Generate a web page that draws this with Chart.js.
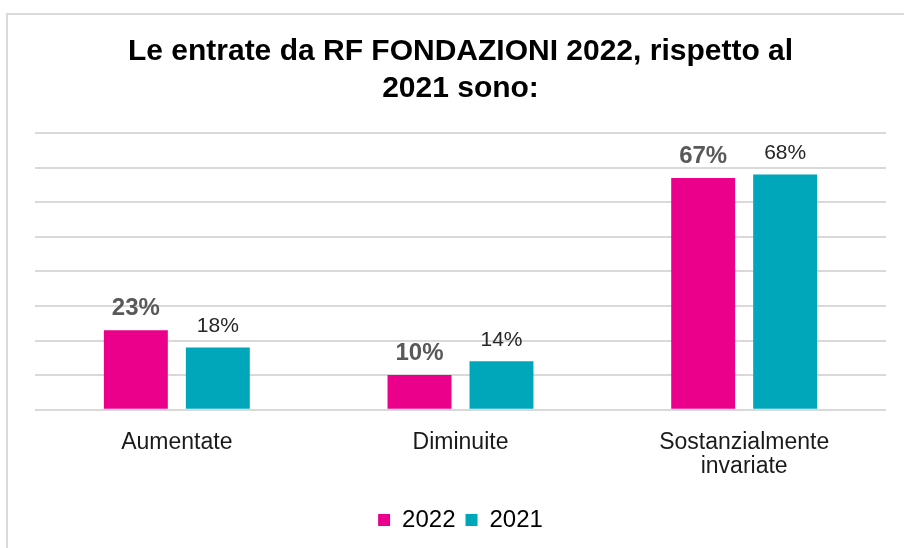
<!DOCTYPE html>
<html>
<head>
<meta charset="utf-8">
<script src="https://cdn.jsdelivr.net/npm/chart.js@4.4.0/dist/chart.umd.min.js"></script>
<style>
  body { margin: 0; overflow: hidden; background: #fff; }
  #frame { position: absolute; left: 6px; top: 13px; width: 1000px; height: 700px; border: 2px solid #d9d9d9; }
  #chart { position: absolute; left: 0; top: 0; }
</style>
</head>
<body>
<div id="frame"></div>
<canvas id="chart" width="904" height="548"></canvas>
<script>
// dati
const categories = ['Aumentate', 'Diminuite', ['Sostanzialmente', 'invariate']];
const values2022 = [23, 10, 67];
const values2021 = [18, 14, 68];
const seriesNames = ['2022', '2021'];

const pink = '#EA008A';
const teal = '#00A6BA';

// etichette sopra le barre
const barLabels = {
  id: 'barLabels',
  afterDatasetsDraw(chart) {
    const ctx = chart.ctx;
    chart.data.datasets.forEach((ds, i) => {
      const meta = chart.getDatasetMeta(i);
      ctx.save();
      if (i === 0) {
        ctx.font = 'bold 24px "Liberation Sans", Arial, sans-serif';
        ctx.fillStyle = '#595959';
      } else {
        ctx.font = '21px "Liberation Sans", Arial, sans-serif';
        ctx.fillStyle = '#262626';
      }
      ctx.textAlign = 'center';
      ctx.textBaseline = 'alphabetic';
      meta.data.forEach((bar, j) => {
        ctx.fillText(ds.data[j] + '%', bar.x, bar.y - 15);
      });
      ctx.restore();
    });
  }
};

const ctx = document.getElementById('chart');
const chart = new Chart(ctx, {
  type: 'bar',
  data: {
    labels: categories,
    datasets: [
      { label: seriesNames[0], data: values2022, backgroundColor: pink },
      { label: seriesNames[1], data: values2021, backgroundColor: teal }
    ]
  },
  options: {
    responsive: false,
    animation: false,
    layout: { padding: { left: 35, right: 18, top: 0, bottom: 6 } },
    categoryPercentage: 0.578,
    barPercentage: 0.78,
    plugins: {
      title: {
        display: true,
        text: ['Le entrate da RF FONDAZIONI 2022, rispetto al', '2021 sono:'],
        color: '#000',
        font: { family: '"Liberation Sans", Arial, sans-serif', size: 30, weight: 'bold', lineHeight: 1.233 },
        padding: { top: 33, bottom: 26 }
      },
      legend: {
        position: 'bottom',
        labels: {
          color: '#000',
          boxWidth: 12,
          boxHeight: 12,
          padding: 10,
          font: { family: '"Liberation Sans", Arial, sans-serif', size: 24 }
        }
      },
      tooltip: { enabled: false }
    },
    scales: {
      x: {
        grid: { display: false },
        border: { display: false },
        afterFit(scale) { scale.height += 6; },
        ticks: {
          color: '#1a1a1a',
          maxRotation: 0,
          padding: 13,
          font: { family: '"Liberation Sans", Arial, sans-serif', size: 23, lineHeight: 1.05 }
        }
      },
      y: {
        min: 0,
        max: 80,
        ticks: { stepSize: 10, display: false },
        grid: { color: '#d9d9d9', lineWidth: 2, drawTicks: false },
        border: { display: false }
      }
    }
  },
  plugins: [barLabels]
});
</script>
</body>
</html>
